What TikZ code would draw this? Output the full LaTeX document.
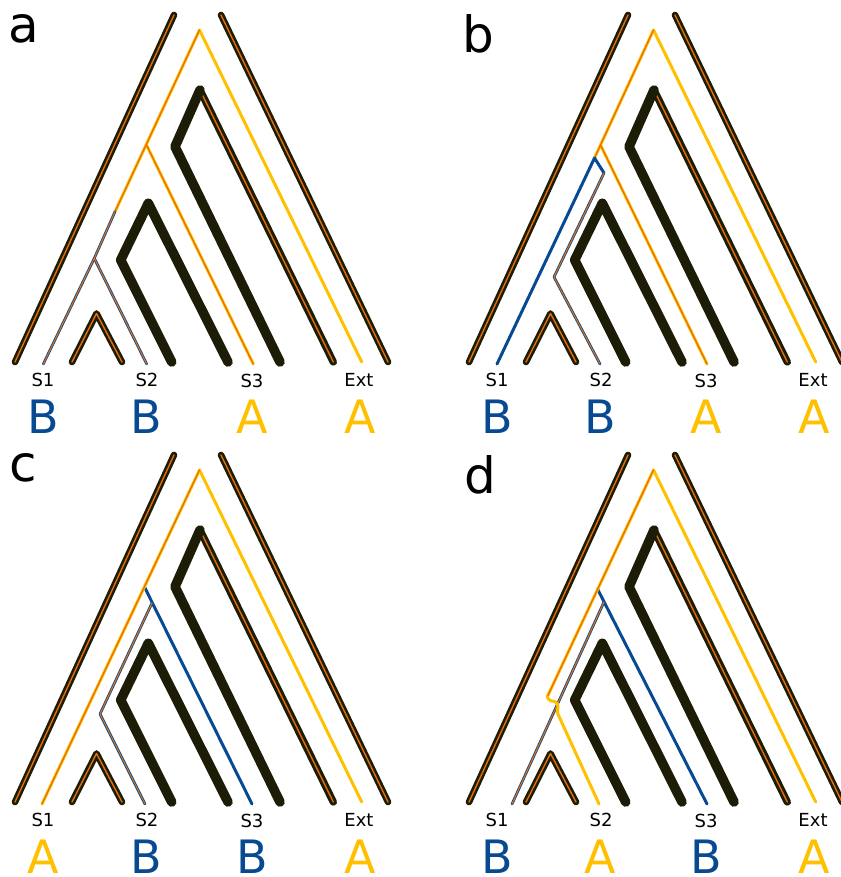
\documentclass[tikz,border=0pt]{standalone}
\usepackage{fontspec}
\setmainfont{DejaVu Sans}
\begin{document}
\begin{tikzpicture}[x=0.5pt,y=0.5pt,yscale=-1,xscale=1,
  tube/.style={draw={rgb, 255:red, 28; green, 28; blue, 7}, line width=1.3pt, double={rgb, 255:red, 230; green, 110; blue, 10}, double distance=0.7pt, line cap=round, line join=round},
  arm/.style={tube, line width=1.5pt},
  wall/.style={draw={rgb, 255:red, 28; green, 28; blue, 7}, line width=4.8pt, line cap=round, line join=round},
  yel/.style={draw={rgb, 255:red, 255; green, 192; blue, 0}, line width=1.5pt, line cap=round, line join=round},
  yelcore/.style={yel, line width=0.45pt, double={rgb, 255:red, 230; green, 110; blue, 10}, double distance=0.6pt},
  blu/.style={draw={rgb, 255:red, 8; green, 74; blue, 146}, line width=1.5pt, line cap=round, line join=round},
  blucore/.style={blu, line width=0.4pt, double={rgb, 255:red, 230; green, 110; blue, 10}, double distance=0.55pt},
  tip/.style={anchor=base, inner sep=0pt, font=\fontsize{9}{10}\selectfont},
  stA/.style={anchor=base, inner sep=0pt, font=\fontsize{23}{24}\selectfont, text={rgb, 255:red, 255; green, 192; blue, 0}},
  stB/.style={anchor=base, inner sep=0pt, font=\fontsize{23}{24}\selectfont, text={rgb, 255:red, 8; green, 74; blue, 146}},
  panel/.style={anchor=base, inner sep=0pt, font=\fontsize{25}{26}\selectfont}]
\useasboundingbox (0,0) rectangle (840,877);

%Panel a
\begin{scope}[shift={(0,0)}]
%Species tree
\draw[tube] (174,15) -- (15,362);
\draw[tube] (221,15) -- (388,362);
\draw[tube] (72,362) -- (96.5,313.5) -- (122,362);
\draw[wall] (228,362) -- (148.3,203.3) -- (120.7,260) -- (171.7,362);
\draw[arm] (200,90) -- (333.3,362);
\draw[wall] (200,90) -- (175,146.7) -- (280,362);
%Gene tree
\draw[yel] (199.5,30) -- (361.7,362);
\draw[yelcore] (199.5,30) -- (115,211.7) (146.5,145) -- (253.3,364);
\draw[blucore] (115,211.7) -- (94.3,258.3) -- (43.3,364) (94.3,258.3) -- (146.7,364);
% Text Node
\node[tip] (s1a) at (43,386) {S1};
\node[tip] (s2a) at (147,386) {S2};
\node[tip] (s3a) at (252,387) {S3};
\node[tip] (exta) at (359,386) {Ext};
\node[stB] (st1a) at (43,433) {B};
\node[stB] (st2a) at (146,433) {B};
\node[stA] (st3a) at (252,433) {A};
\node[stA] (st4a) at (360,433) {A};
\end{scope}

%Panel b
\begin{scope}[shift={(454,0)}]
%Species tree
\draw[tube] (174,15) -- (15,362);
\draw[tube] (221,15) -- (388,362);
\draw[tube] (72,362) -- (96.5,313.5) -- (122,362);
\draw[wall] (228,362) -- (148.3,203.3) -- (120.7,260) -- (171.7,362);
\draw[arm] (200,90) -- (333.3,362);
\draw[wall] (200,90) -- (175,146.7) -- (280,362);
%Gene tree
\draw[yel] (199.5,30) -- (361.7,362);
\draw[yelcore] (199.5,30) -- (140.5,158) (146.5,145) -- (253,364);
\draw[blu] (140.5,158) -- (43,364) (140.5,158) -- (150,173);
\draw[blucore] (150,173) -- (100,277) -- (146,364);
% Text Node
\node[tip] (s1b) at (43,386) {S1};
\node[tip] (s2b) at (147,386) {S2};
\node[tip] (s3b) at (252,387) {S3};
\node[tip] (extb) at (359,386) {Ext};
\node[stB] (st1b) at (43,433) {B};
\node[stB] (st2b) at (146,433) {B};
\node[stA] (st3b) at (252,433) {A};
\node[stA] (st4b) at (360,433) {A};
\end{scope}

%Panel c
\begin{scope}[shift={(0,440)}]
%Species tree
\draw[tube] (174,15) -- (15,362);
\draw[tube] (221,15) -- (388,362);
\draw[tube] (72,362) -- (96.5,313.5) -- (122,362);
\draw[wall] (228,362) -- (148.3,203.3) -- (120.7,260) -- (171.7,362);
\draw[arm] (200,90) -- (333.3,362);
\draw[wall] (200,90) -- (175,146.7) -- (280,362);
%Gene tree
\draw[yel] (199.5,30) -- (361.7,362);
\draw[blu] (144.5,147) -- (252,364);
\draw[blucore] (152,163) -- (100,274) -- (145,364);
\draw[yelcore] (199.5,30) -- (42,364);
% Text Node
\node[tip] (s1c) at (43,386) {S1};
\node[tip] (s2c) at (147,386) {S2};
\node[tip] (s3c) at (252,387) {S3};
\node[tip] (extc) at (359,386) {Ext};
\node[stA] (st1c) at (43,433) {A};
\node[stB] (st2c) at (146,433) {B};
\node[stB] (st3c) at (252,433) {B};
\node[stA] (st4c) at (360,433) {A};
\end{scope}

%Panel d
\begin{scope}[shift={(454,440)}]
%Species tree
\draw[tube] (174,15) -- (15,362);
\draw[tube] (221,15) -- (388,362);
\draw[tube] (72,362) -- (96.5,313.5) -- (122,362);
\draw[wall] (228,362) -- (148.3,203.3) -- (120.7,260) -- (171.7,362);
\draw[arm] (200,90) -- (333.3,362);
\draw[wall] (200,90) -- (175,146.7) -- (280,362);
%Gene tree
\draw[yel] (199.5,30) -- (361.7,362);
\draw[blu] (143.5,149) -- (253,364);
\draw[blucore] (150,162) -- (58,364);
\draw[yelcore] (199.5,30) -- (93.3,256.7);
\draw[yel, rounded corners=1.2pt] (93.3,256.7) -- (95,260.5) -- (102,261.7) -- (104.5,265.5) -- (103,272) -- (145,364);
% Text Node
\node[tip] (s1d) at (43,386) {S1};
\node[tip] (s2d) at (147,386) {S2};
\node[tip] (s3d) at (252,387) {S3};
\node[tip] (extd) at (359,386) {Ext};
\node[stB] (st1d) at (43,433) {B};
\node[stA] (st2d) at (146,433) {A};
\node[stB] (st3d) at (252,433) {B};
\node[stA] (st4d) at (360,433) {A};
\end{scope}

% Text Node
\node[panel] (pa) at (24.3,42.3) {a};
\node[panel] (pb) at (478.3,52.5) {b};
\node[panel] (pc) at (23.3,481.7) {c};
\node[panel] (pd) at (480,493) {d};
\end{tikzpicture}
\end{document}
